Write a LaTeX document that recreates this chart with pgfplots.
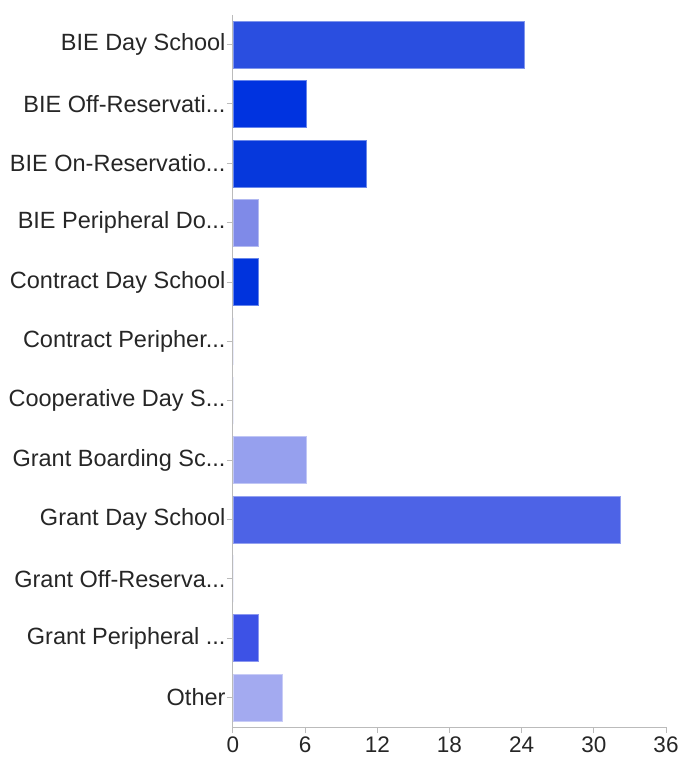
\documentclass[border=0pt]{standalone}
\usepackage{pgfplots}
\pgfplotsset{compat=1.18}
\usepackage{fontspec}
\setmainfont{Liberation Sans}
\newcommand{\ddd}{.{}.{}.}
\definecolor{c1}{HTML}{2A4EE0}
\definecolor{c2}{HTML}{0033E0}
\definecolor{c3}{HTML}{0638DC}
\definecolor{c4}{HTML}{7F8AE8}
\definecolor{c5}{HTML}{0033DD}
\definecolor{c6}{HTML}{5566E6}
\definecolor{c7}{HTML}{6677E8}
\definecolor{c8}{HTML}{96A0EE}
\definecolor{c9}{HTML}{4D63E6}
\definecolor{c10}{HTML}{8090EA}
\definecolor{c11}{HTML}{3D52E6}
\definecolor{c12}{HTML}{A3AAF0}
\definecolor{axgray}{HTML}{BBBBBB}
\begin{document}
\begin{tikzpicture}
\begin{axis}[
  scale only axis,
  width=433pt, height=712pt,
  xbar, bar shift=0pt, bar width=0.79,
  xmin=0, xmax=36,
  ymin=-0.5, ymax=11.5,
  y dir=reverse,
  xtick={0,6,12,18,24,30,36},
  ytick={0,1,2,3,4,5,6,7,8,9,10,11},
  yticklabels={{BIE Day School},{BIE Off-Reservati\ddd},{BIE On-Reservatio\ddd},{BIE Peripheral Do\ddd},{Contract Day School},{Contract Peripher\ddd},{Cooperative Day S\ddd},{Grant Boarding Sc\ddd},{Grant Day School},{Grant Off-Reserva\ddd},{Grant Peripheral \ddd},{Other}},
  axis x line*=bottom, axis y line*=left,
  axis line style={axgray, line width=1pt, -},
  tick style={axgray, line width=1pt},
  tick align=outside,
  major tick length=6pt,
  yticklabel style={font=\fontsize{23.5}{28}\selectfont, text=black!85, xshift=2pt},
  xticklabel style={font=\fontsize{22.5}{27}\selectfont, text=black!85},
  /pgf/number format/assume math mode=true,
  clip=false,
]
\addplot[fill=c1, draw=c1!60!white] coordinates {(24.2,0)};
\addplot[fill=c2, draw=c2!60!white] coordinates {(6.05,1)};
\addplot[fill=c3, draw=c3!60!white] coordinates {(11.1,2)};
\addplot[fill=c4, draw=c4!60!white] coordinates {(2.1,3)};
\addplot[fill=c5, draw=c5!60!white] coordinates {(2.1,4)};
\addplot[fill=c6, draw=none] coordinates {(0,5)};
\addplot[fill=c7, draw=none] coordinates {(0,6)};
\addplot[fill=c8, draw=c8!60!white] coordinates {(6.05,7)};
\addplot[fill=c9, draw=c9!60!white] coordinates {(32.2,8)};
\addplot[fill=c10, draw=none] coordinates {(0,9)};
\addplot[fill=c11, draw=c11!60!white] coordinates {(2.1,10)};
\addplot[fill=c12, draw=c12!60!white] coordinates {(4.1,11)};
\path (rel axis cs:0,0) ++(-233pt,-32pt) (rel axis cs:1,1) ++(15pt,15pt);
\end{axis}
\end{tikzpicture}
\end{document}
